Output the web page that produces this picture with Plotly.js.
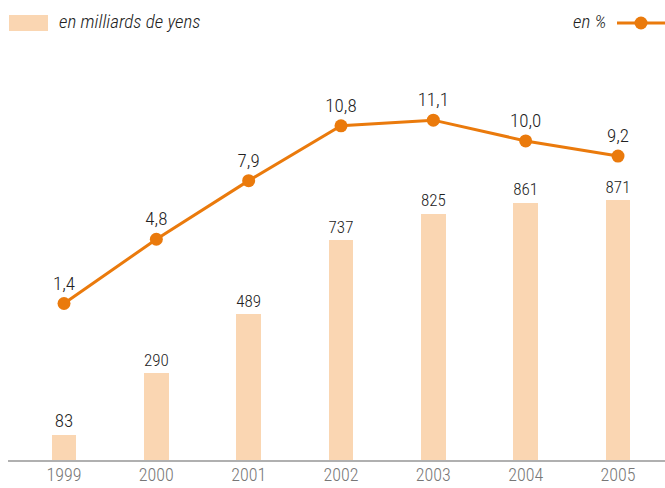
<!DOCTYPE html>
<html>
<head>
<meta charset="utf-8">
<script src="https://cdn.plot.ly/plotly-3.0.1.min.js"></script>
<style>html,body{margin:0;padding:0;background:#fff;}#chart{width:665px;height:488px;}</style>
</head>
<body>
<div id="chart"></div>
<script>
const years = ['1999','2000','2001','2002','2003','2004','2005'];
const amounts = [83, 290, 489, 737, 825, 861, 871];
const percents = [1.4, 4.8, 7.9, 10.8, 11.1, 10.0, 9.2];
const barName = 'en milliards de yens';
const lineName = 'en %';

const FONT = '"Roboto Condensed", "Liberation Sans Narrow", "DejaVu Sans Condensed", sans-serif';
const ORANGE = '#ea7a0c';
const PEACH = '#fad6b2';

const bars = {
  type: 'bar', x: years, y: amounts, name: barName,
  marker: {color: PEACH}, width: 0.27,
  text: amounts.map(v => String(v)), textposition: 'outside',
  textfont: {family: FONT, size: 19, color: '#222', weight: 300},
  cliponaxis: false, hoverinfo: 'skip'
};
const line = {
  type: 'scatter', mode: 'lines+markers+text', x: years, y: percents, name: lineName,
  yaxis: 'y2',
  line: {color: ORANGE, width: 3},
  marker: {color: ORANGE, size: 13},
  text: percents.map(v => v.toFixed(1).replace('.', ',')),
  textposition: 'top center',
  textfont: {family: FONT, size: 19, color: '#222', weight: 300},
  cliponaxis: false, hoverinfo: 'skip'
};

const plotH = 420, plotW = 657;
function px(x){ return (x - 8) / plotW; }
function py(y){ return (460 - y) / plotH; }

const layout = {
  width: 665, height: 488,
  margin: {l: 8, r: 0, t: 40, b: 28},
  paper_bgcolor: '#fff', plot_bgcolor: '#fff',
  showlegend: false,
  bargap: 0,
  font: {family: FONT, size: 19, color: '#222'},
  xaxis: {
    type: 'category', range: [-0.6065, 6.509],
    showgrid: false, zeroline: false,
    showline: true, linecolor: '#b0b0b0', linewidth: 2,
    ticks: '', ticklabelstandoff: -3,
    tickfont: {family: FONT, size: 18, color: '#777', weight: 300},
    fixedrange: true
  },
  yaxis: {range: [0, 1407], visible: false, showgrid: false, zeroline: false, fixedrange: true},
  yaxis2: {range: [-6.88, 15.34], overlaying: 'y', visible: false, showgrid: false, zeroline: false, fixedrange: true},
  shapes: [
    {type: 'rect', xref: 'paper', yref: 'paper', x0: px(9), x1: px(48), y0: py(31), y1: py(15),
     fillcolor: PEACH, line: {width: 0}},
    {type: 'line', xref: 'paper', yref: 'paper', x0: px(617), x1: px(665), y0: py(23), y1: py(23),
     line: {color: ORANGE, width: 3}},
    {type: 'circle', xref: 'paper', yref: 'paper', x0: px(634.5), x1: px(647.5), y0: py(29.5), y1: py(16.5),
     fillcolor: ORANGE, line: {width: 0}}
  ],
  annotations: [
    {xref: 'paper', yref: 'paper', x: px(57), y: py(22), xanchor: 'left', yanchor: 'middle',
     text: '<i>' + barName + '</i>', showarrow: false, font: {family: FONT, size: 19, color: '#222', weight: 300}},
    {xref: 'paper', yref: 'paper', x: px(608), y: py(22), xanchor: 'right', yanchor: 'middle',
     text: '<i>' + lineName + '</i>', showarrow: false, font: {family: FONT, size: 19, color: '#222', weight: 300}}
  ]
};

Plotly.newPlot('chart', [bars, line], layout, {staticPlot: true, displayModeBar: false});
</script>
</body>
</html>
